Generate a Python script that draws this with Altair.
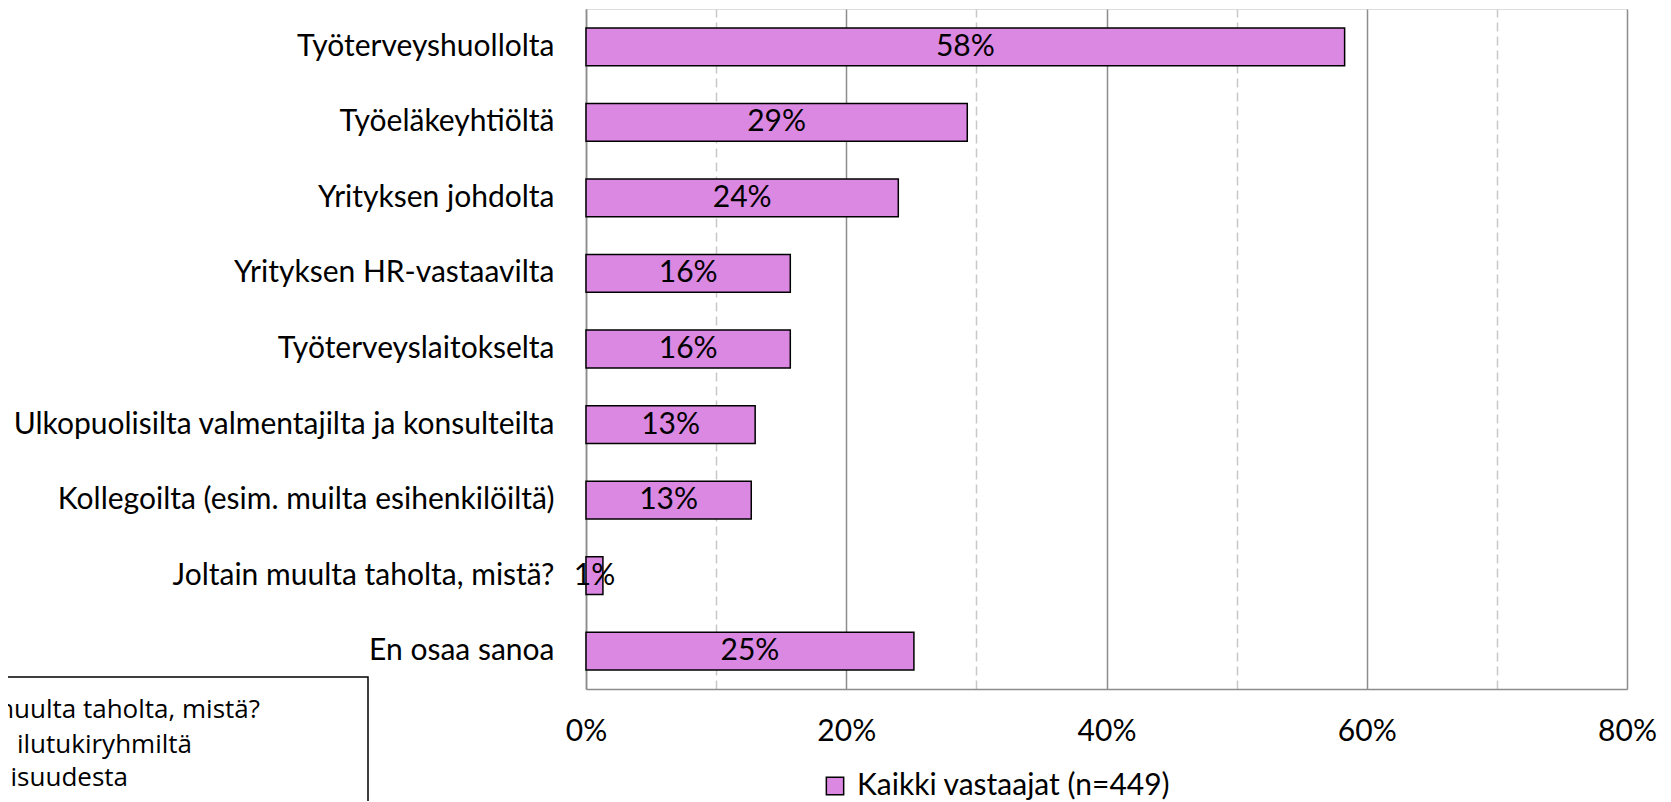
import altair as alt
import pandas as pd

categories = [
    "Työterveyshuollolta",
    "Työeläkeyhtiöltä",
    "Yrityksen johdolta",
    "Yrityksen HR-vastaavilta",
    "Työterveyslaitokselta",
    "Ulkopuolisilta valmentajilta ja konsulteilta",
    "Kollegoilta (esim. muilta esihenkilöiltä)",
    "Joltain muulta taholta, mistä?",
    "En osaa sanoa",
]
values = [0.583, 0.293, 0.240, 0.157, 0.157, 0.130, 0.127, 0.013, 0.252]
series_name = "Kaikki vastaajat (n=449)"
x_ticks = [0, 0.1, 0.2, 0.3, 0.4, 0.5, 0.6, 0.7, 0.8]
note_lines = ["muulta taholta, mistä?", "ilutukiryhmiltä", "isuudesta"]

FONT = "Lato"
FS = 30
BAR = "#DA88E2"
GRID = "#8c8c8c"

df = pd.DataFrame({"cat": categories, "val": values, "series": [series_name] * len(categories)})

y_enc = alt.Y(
    "cat:N",
    sort=categories,
    title=None,
    scale=alt.Scale(paddingInner=0.5, paddingOuter=0.25),
    axis=alt.Axis(ticks=False, labelPadding=32, labelFontSize=FS, labelFont=FONT,
                  labelColor="#000000", domainColor=GRID, domainWidth=1.5, labelLimit=800),
)
x_enc = alt.X(
    "val:Q",
    title=None,
    scale=alt.Scale(domain=[0, 0.8], nice=False),
    axis=alt.Axis(
        values=x_ticks,
        format=".0%",
        labelExpr="round(datum.value*10) % 2 === 0 ? format(datum.value, '.0%') : ''",
        labelFlush=False,
        labelOverlap=False,
        ticks=False,
        labelPadding=42,
        labelBaseline="middle",
        labelFontSize=FS,
        labelFont=FONT,
        labelColor="#000000",
        domainColor=GRID,
        domainWidth=1.5,
        grid=True,
        gridColor={"condition": {"test": "round(datum.value*10) % 2 === 1", "value": "#c8c8c8"}, "value": GRID},
        gridDash={"condition": {"test": "round(datum.value*10) % 2 === 1", "value": [9, 5]}, "value": []},
        gridWidth=1.5,
    ),
)

bars = alt.Chart(df).mark_bar(stroke="#000000", strokeWidth=1.5).encode(
    y=y_enc,
    x=x_enc,
    color=alt.Color(
        "series:N",
        scale=alt.Scale(range=[BAR]),
        legend=alt.Legend(
            title=None,
            orient="none",
            legendX=234,
            legendY=762,
            symbolType="square",
            symbolSize=300,
            symbolStrokeColor="#000000",
            symbolStrokeWidth=1.5,
            labelFontSize=FS,
            labelFont=FONT,
            labelColor="#000000",
            labelOffset=7,
            labelLimit=800,
            padding=0,
        ),
    ),
)

labels = alt.Chart(df).transform_calculate(mid="datum.val / 2").mark_text(
    font=FONT, fontSize=FS, color="#000000", baseline="middle", align="center"
).encode(
    y=alt.Y("cat:N", sort=categories),
    x=alt.X("mid:Q"),
    text=alt.Text("val:Q", format=".0%"),
)

note_box = alt.Chart(pd.DataFrame({"a": [0]})).mark_rect(
    fill="#ffffff", stroke="#000000", strokeWidth=1.5
).encode(x=alt.value(-900), x2=alt.value(-218), y=alt.value(668), y2=alt.value(900))

note_layers = []
note_x = [-326, -394, -458]
note_y = [701, 736, 769]
for i, line in enumerate(note_lines):
    note_layers.append(
        alt.Chart(pd.DataFrame({"t": [line]})).mark_text(
            font="Open Sans", fontSize=26, color="#000000", align="right", baseline="middle"
        ).encode(x=alt.value(note_x[i]), y=alt.value(note_y[i]), text="t:N")
    )

chart = alt.layer(bars, labels, note_box, *note_layers).properties(
    width=1041,
    height=680,
    autosize=alt.AutoSizeParams(type="none"),
    padding={"left": 578, "top": 1, "right": 30, "bottom": 112},
).configure_view(stroke=GRID, strokeWidth=1.5).configure(background="#ffffff")

chart.save("out.html", embed_options={"renderer": "svg", "actions": False})
